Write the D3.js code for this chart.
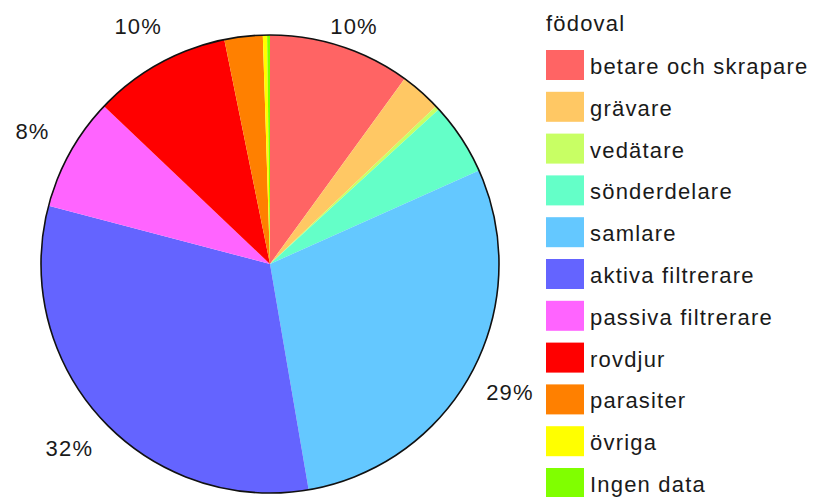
<!DOCTYPE html>
<html>
<head>
<meta charset="utf-8">
<script src="https://cdn.jsdelivr.net/npm/d3@7"></script>
<style>
  body { margin: 0; background: #fff; }
  text { font-family: "Liberation Sans", Arial, sans-serif; fill: #1a1a1a; letter-spacing: 1.2px; }
</style>
</head>
<body>
<svg id="chart" width="813" height="497"></svg>
<script>
// födoval - andel per kategori (%)
var categories = ["betare och skrapare", "grävare", "vedätare", "sönderdelare", "samlare",
  "aktiva filtrerare", "passiva filtrerare", "rovdjur", "parasiter", "övriga", "Ingen data"];
var values = [10, 2.9, 0.3, 5.1, 29, 31.8, 8, 9.7, 2.7, 0.3, 0.2];
var colors = ["#ff6464", "#ffc864", "#c8ff64", "#64ffc8", "#64c8ff",
  "#6464ff", "#ff64ff", "#ff0000", "#ff8000", "#ffff00", "#80ff00"];
var legendTitle = "födoval";

var svg = d3.select("#chart");
var cx = 270, cy = 264, radius = 229;

var data = categories.map(function (c, i) {
  return { name: c, value: values[i] };
});

var color = d3.scaleOrdinal().domain(categories).range(colors);

var pie = d3.pie().sort(null).value(function (d) { return d.value; });
var arcs = pie(data);

var arc = d3.arc().innerRadius(0).outerRadius(radius);
var labelArc = d3.arc().innerRadius(272).outerRadius(272);

var g = svg.append("g").attr("transform", "translate(" + cx + "," + cy + ")");

g.selectAll("path.slice")
  .data(arcs)
  .enter()
  .append("path")
  .attr("class", "slice")
  .attr("d", arc)
  .attr("fill", function (d) { return color(d.data.name); });

// svart kant runt cirkeln
g.append("circle")
  .attr("r", radius)
  .attr("fill", "none")
  .attr("stroke", "#111")
  .attr("stroke-width", 1.6);

// procentetiketter, bara de stora (hålls inom bilden)
g.selectAll("text.pct")
  .data(arcs.filter(function (d) { return d.data.value >= 7.5; }))
  .enter()
  .append("text")
  .attr("class", "pct")
  .attr("transform", function (d) {
    var p = labelArc.centroid(d);
    var y = Math.max(p[1], 26 - cy);
    return "translate(" + p[0] + "," + y + ")";
  })
  .attr("text-anchor", "middle")
  .attr("dy", "0.36em")
  .style("font-size", "22px")
  .text(function (d) { return Math.round(d.data.value) + "%"; });

// legend
var legend = svg.append("g").attr("transform", "translate(546,0)");
legend.append("text")
  .attr("x", 0)
  .attr("y", 31)
  .style("font-size", "22px")
  .text(legendTitle);

var rowY = d3.scaleLinear().domain([0, categories.length - 1]).range([50, 468]);

var rows = legend.selectAll("g.row")
  .data(categories)
  .enter()
  .append("g")
  .attr("class", "row")
  .attr("transform", function (d, i) { return "translate(0," + rowY(i) + ")"; });

rows.append("rect")
  .attr("width", 38)
  .attr("height", 30)
  .attr("fill", function (d) { return color(d); });

rows.append("text")
  .attr("x", 44)
  .attr("y", 24)
  .style("font-size", "22px")
  .text(function (d) { return d; });
</script>
</body>
</html>
